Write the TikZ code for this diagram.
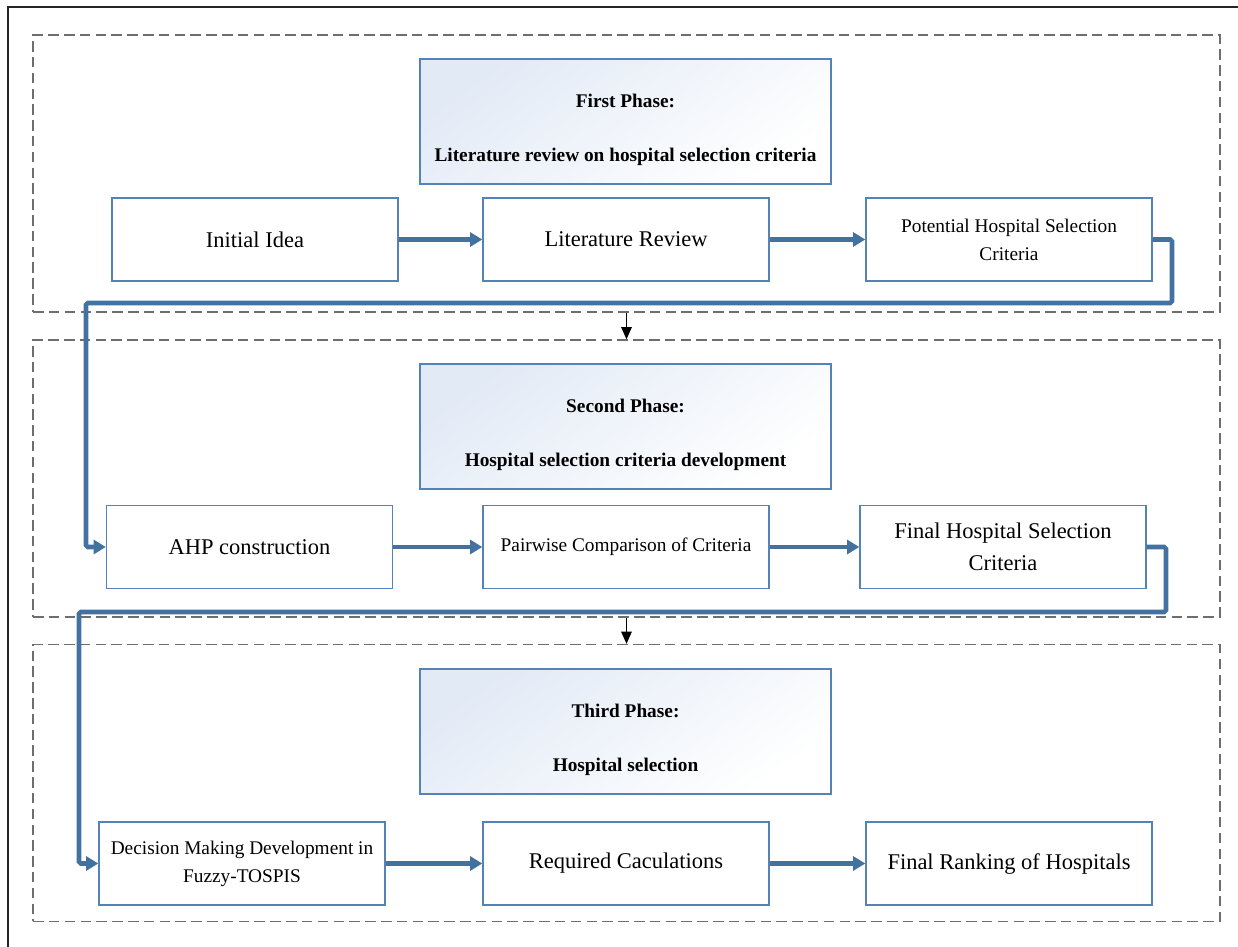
\documentclass[tikz,border=0pt]{standalone}
\usepackage{fontspec}
\setmainfont{Liberation Serif}
\usepackage{tikz}
\usetikzlibrary{arrows.meta,positioning}
\definecolor{boxblue}{RGB}{84,130,185}
\definecolor{flowblue}{RGB}{68,114,160}
\definecolor{shadeblue}{RGB}{226,234,246}
\definecolor{framegray}{RGB}{110,110,110}
\newcommand{\toppad}{\rule{0pt}{17pt}}
\tikzstyle{phase}   = [draw=framegray, dashed, dash pattern=on 6pt off 3pt, thick, minimum width=23.74cm, minimum height=5.54cm]
\tikzstyle{title}   = [draw=boxblue, thick, top color=shadeblue, bottom color=white, shading angle=35, minimum width=8.22cm, minimum height=2.5cm, align=center, font=\bfseries\fontsize{11}{13}\selectfont]
\tikzstyle{stepbox} = [draw=boxblue, thick, fill=white, minimum width=5.72cm, minimum height=1.66cm, align=center, font=\fontsize{12.8}{18.5}\selectfont]
\tikzstyle{small}   = [font=\fontsize{11}{16}\selectfont]
\tikzstyle{flow}    = [line width=2.6pt, draw=flowblue, -{Triangle[length=7pt,width=8pt]}]
\tikzstyle{down}    = [thick, black, -{Triangle[length=7pt,width=6pt]}]

\begin{document}
\begin{tikzpicture}[x=0.02cm,y=-0.02cm]
		\useasboundingbox (0,0) rectangle (1238,947);
		\draw[thick, black!85] (8,947) -- (8,7) -- (1238,7);

		% phase frames
		\node[phase] (P1) at (626.5,173.5) {};
		\node[phase] (P2) at (626.5,478.5) {};
		\node[phase] (P3) at (626.5,783) {};

		\node[title] (T1) at (625.5,121.5) {\toppad First Phase:\\[18pt] Literature review on hospital selection criteria};
		\node[title] (T2) at (625.5,426.5) {\toppad Second Phase:\\[18pt] Hospital selection criteria development};
		\node[title] (T3) at (625.5,731.5) {\toppad Third Phase:\\[18pt] Hospital selection};

		\begin{scope}[every node/.style={stepbox}]
			\node (A1) at (255,239.5) {Initial Idea};
			\node (A2) at (626,239.5) {Literature Review};
			\node[small] (A3) at (1009,239.5) {Potential Hospital Selection\\ Criteria};
			\node (B1) at (249.5,547) {AHP construction};
			\node[small] (B2) at (626,547) {Pairwise Comparison of Criteria};
			\node (B3) at (1003,547) {Final Hospital Selection\\ Criteria};
			\node[small] (C1) at (242,863.5) {Decision Making Development in\\ Fuzzy-TOSPIS};
			\node (C2) at (626,863.5) {Required Caculations};
			\node (C3) at (1009,863.5) {Final Ranking of Hospitals};
		\end{scope}

		\coordinate (k1) at (1172,239.5);
		\coordinate (k2) at (1172,303);
		\coordinate (k3) at (86,303);
		\coordinate (m1) at (1166,547);
		\coordinate (m2) at (1166,612);
		\coordinate (m3) at (79,612);

		\draw[flow] (A1) -- (A2);
		\draw[flow] (A2) -- (A3);
		\draw[flow] (B1) -- (B2);
		\draw[flow] (B2) -- (B3);
		\draw[flow] (C1) -- (C2);
		\draw[flow] (C2) -- (C3);
		\draw[flow, rounded corners=1pt] (A3.east) -- (k1) -- (k2) -- (k3) |- (B1.west);
		\draw[flow, rounded corners=1pt] (B3.east) -- (m1) -- (m2) -- (m3) |- (C1.west);

		\draw[down] (P1.south) -- (P2.north);
		\draw[down] (P2.south) -- (P3.north);
	\end{tikzpicture}
\end{document}
